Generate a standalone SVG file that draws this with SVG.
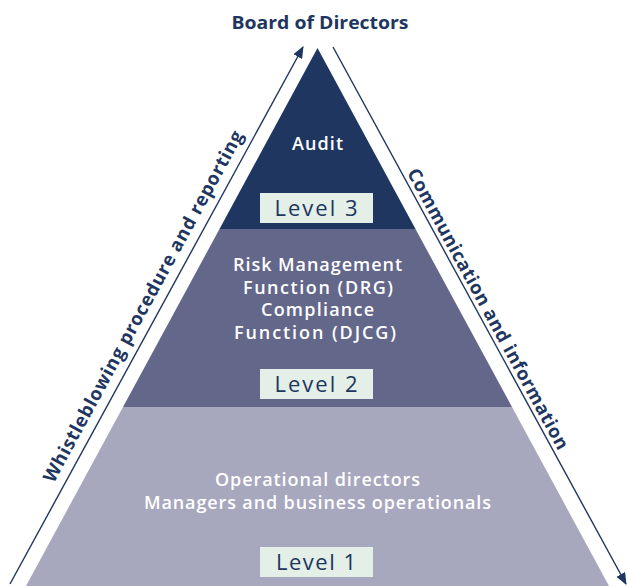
<svg xmlns="http://www.w3.org/2000/svg" width="628" height="586" viewBox="0 0 628 586">
  <style>
    .lvl { fill: #e3efe7; }
    .lvltxt { font-family: "Open Sans", "Liberation Sans", sans-serif; font-size: 22px; fill: #1e3660; text-anchor: middle; }
    .wt { font-family: "Open Sans", "Liberation Sans", sans-serif; font-size: 18px; font-weight: 600; fill: #ffffff; text-anchor: middle; }
    .side { font-family: "Open Sans", "Liberation Sans", sans-serif; font-size: 18.5px; font-weight: 700; fill: #1e3660; text-anchor: middle; }
    .conn { stroke: #1e3660; stroke-width: 1.4; fill: none; }
  </style>
  <defs>
    <marker id="ah" viewBox="0 0 12 10" refX="11" refY="5" markerWidth="12" markerHeight="10" markerUnits="userSpaceOnUse" orient="auto">
      <path d="M0,0 L12,5 L0,10 Z" fill="#1e3660"/>
    </marker>
  </defs>

  <text x="320" y="29" font-family="Open Sans, Liberation Sans, sans-serif" font-size="18" font-weight="700" fill="#1e3660" text-anchor="middle" textLength="177" lengthAdjust="spacingAndGlyphs">Board of Directors</text>

  <g id="level3">
    <polygon points="317.5,48 415.5,229 219.5,229" fill="#1e3660"/>
    <text class="wt" x="317.5" y="150" textLength="51">Audit</text>
    <rect class="lvl" x="260" y="193" width="113" height="30"/>
    <text class="lvltxt" x="316" y="216" textLength="83">Level 3</text>
  </g>

  <g id="level2">
    <polygon points="219.5,229 415.5,229 512,407 123,407" fill="#63678a"/>
    <text class="wt" x="317.5" y="271" textLength="169">Risk Management</text>
    <text class="wt" x="318" y="293.5" textLength="150">Function (DRG)</text>
    <text class="wt" x="317.5" y="316" textLength="113">Compliance</text>
    <text class="wt" x="315" y="338.5" textLength="162">Function (DJCG)</text>
    <rect class="lvl" x="260" y="369" width="113" height="30"/>
    <text class="lvltxt" x="316" y="392" textLength="83">Level 2</text>
  </g>

  <g id="level1">
    <polygon points="123,407 512,407 609,586 26,586" fill="#a7a7bd"/>
    <text class="wt" x="317.5" y="486" textLength="205">Operational directors</text>
    <text class="wt" x="317.5" y="509" textLength="347">Managers and business operationals</text>
    <rect class="lvl" x="260" y="547" width="113" height="30"/>
    <text class="lvltxt" x="316" y="570" textLength="80">Level 1</text>
  </g>

  <g id="connectors">
    <line class="conn" x1="10" y1="584" x2="303" y2="47" marker-end="url(#ah)"/>
    <line class="conn" x1="333" y1="47" x2="626" y2="584" marker-end="url(#ah)"/>
  </g>

  <g id="label-left">
    <text class="side" transform="translate(148.7,309.4) rotate(-61.4)" x="0" y="0" textLength="397">Whistleblowing procedure and reporting</text>
  </g>
  <g id="label-right">
    <text class="side" transform="translate(482.5,312) rotate(61.4)" x="0" y="0" textLength="317">Communication and information</text>
  </g>
</svg>
